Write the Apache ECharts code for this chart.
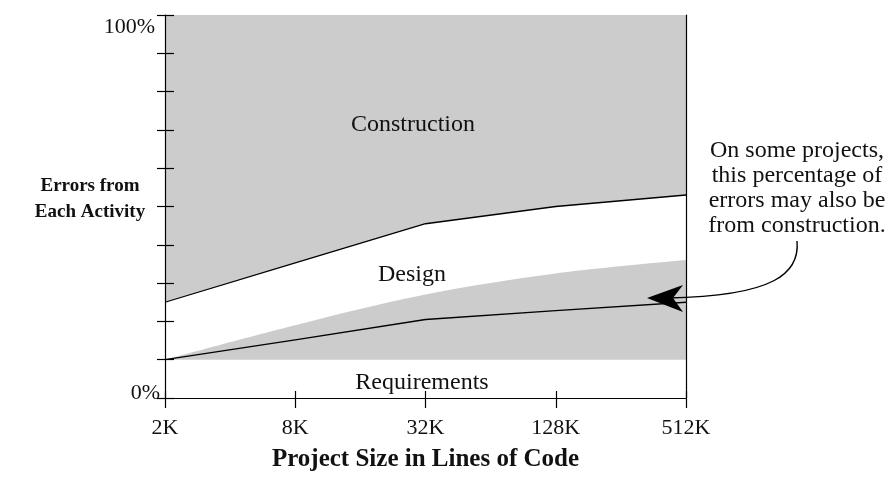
<!DOCTYPE html>
<html>
<head>
<meta charset="utf-8">
<script src="https://cdn.jsdelivr.net/npm/echarts@6/dist/echarts.min.js"></script>
<style>
  html, body { margin: 0; padding: 0; background: #fff; }
  #chart { width: 889px; height: 477px; }
</style>
</head>
<body>
<div id="chart"></div>
<script>
// project sizes along the bottom axis
var sizeLabels = ['2K', '8K', '32K', '128K', '512K'];

// boundary between design and construction errors (%)
var designTop = [25, 35.3, 45.5, 50, 53];
// upper edge of the shaded "may also be construction" band (%)
var shadedTop = [10, 19, 27, 32.5, 36];
// boundary between requirements and design errors (%)
var requirementsTop = [10, 15.2, 20.5, 22.8, 25];
// bottom of the shaded band (%)
var shadedBase = [10, 10, 10, 10, 10];

var FONT = 'Liberation Serif';
var GRAY = '#cccccc';
var INK = '#111';

var chart = echarts.init(document.getElementById('chart'));

var option = {
    animation: false,
    backgroundColor: '#fff',
    grid: { left: 165, right: 203, top: 15, bottom: 72 },
    xAxis: [
        {   // main axis, ticks inside
            type: 'category', data: sizeLabels, boundaryGap: false, z: 10,
            axisLine: { lineStyle: { color: '#000', width: 1.2 } },
            axisTick: { inside: true, length: 7, lineStyle: { color: '#000', width: 1.2 } },
            axisLabel: { margin: 19, fontFamily: FONT, fontSize: 22, color: INK },
            name: 'Project Size in Lines of Code',
            nameLocation: 'middle', nameGap: 49,
            nameTextStyle: { fontFamily: FONT, fontSize: 25, fontWeight: 'bold', color: INK },
            splitLine: { show: false }
        },
        {   // same axis, ticks outside
            type: 'category', data: sizeLabels, boundaryGap: false, position: 'bottom', z: 10,
            axisLine: { show: false },
            axisTick: { length: 10, lineStyle: { color: '#000', width: 1.2 } },
            axisLabel: { show: false }, splitLine: { show: false }
        },
        {   // top frame
            type: 'category', data: sizeLabels, boundaryGap: false, position: 'top', z: 10,
            axisLine: { lineStyle: { color: '#000', width: 1.2 } },
            axisTick: { show: false }, axisLabel: { show: false }, splitLine: { show: false }
        }
    ],
    yAxis: [
        {   // main axis, ticks inside
            type: 'value', min: 0, max: 100, interval: 10, z: 10,
            axisLine: { show: true, lineStyle: { color: '#000', width: 1.2 } },
            axisTick: { show: true, inside: true, length: 9, lineStyle: { color: '#000', width: 1.2 } },
            splitLine: { show: false },
            axisLabel: {
                margin: 5, fontFamily: FONT, fontSize: 22, color: INK,
                formatter: function (v) {
                    if (v === 100) return '{t|100%}';
                    if (v === 0) return '{b|0%}';
                    return '';
                },
                rich: {
                    t: { fontFamily: FONT, fontSize: 22, color: INK, padding: [24, 5, 0, 0] },
                    b: { fontFamily: FONT, fontSize: 22, color: INK, padding: [0, 0, 10, 0] }
                }
            }
        },
        {   // same axis, ticks outside
            type: 'value', min: 0, max: 100, interval: 10, position: 'left', z: 10,
            axisLine: { show: false },
            axisTick: { show: true, length: 8, lineStyle: { color: '#000', width: 1.2 } },
            axisLabel: { show: false }, splitLine: { show: false }
        },
        {   // right frame
            type: 'value', min: 0, max: 100, position: 'right', z: 10,
            axisLine: { show: true, lineStyle: { color: '#000', width: 1.2 } },
            axisTick: { show: false }, axisLabel: { show: false }, splitLine: { show: false }
        }
    ],
    series: [
        {
            name: 'shaded', type: 'line', data: shadedTop, smooth: 0.35,
            symbol: 'none', lineStyle: { width: 0 },
            areaStyle: { color: GRAY, opacity: 1, origin: 'start' }
        },
        {
            name: 'base', type: 'line', data: shadedBase,
            symbol: 'none', lineStyle: { width: 0 },
            areaStyle: { color: '#fff', opacity: 1, origin: 'start' }
        },
        {
            name: 'Requirements', type: 'line', data: requirementsTop,
            symbol: 'none', lineStyle: { color: '#000', width: 1.3 }
        },
        {
            name: 'Construction', type: 'line', data: designTop,
            symbol: 'none', lineStyle: { color: '#000', width: 1.3 },
            areaStyle: { color: GRAY, opacity: 1, origin: 'end' }
        }
    ],
    graphic: [
        {
            type: 'text', x: 90, y: 199, z: 20,
            style: {
                text: 'Errors from\nEach Activity', align: 'center', verticalAlign: 'middle',
                font: 'bold 19px "Liberation Serif"', fill: INK, lineHeight: 26
            }
        },
        {
            type: 'text', x: 413, y: 125, z: 20,
            style: { text: 'Construction', align: 'center', verticalAlign: 'middle',
                font: '24px "Liberation Serif"', fill: INK }
        },
        {
            type: 'text', x: 412, y: 275, z: 20,
            style: { text: 'Design', align: 'center', verticalAlign: 'middle',
                font: '24px "Liberation Serif"', fill: INK }
        },
        {
            type: 'text', x: 422, y: 383, z: 20,
            style: { text: 'Requirements', align: 'center', verticalAlign: 'middle',
                font: '24px "Liberation Serif"', fill: INK }
        },
        {
            type: 'text', x: 797, y: 188, z: 20,
            style: {
                text: 'On some projects,\nthis percentage of\nerrors may also be\nfrom construction.',
                align: 'center', verticalAlign: 'middle',
                font: '24px "Liberation Serif"', fill: INK, lineHeight: 25
            }
        },
        {
            type: 'bezierCurve', z: 20,
            shape: { x1: 797, y1: 241, cpx1: 800, cpy1: 273, cpx2: 775, cpy2: 296, x2: 668, y2: 298 },
            style: { stroke: '#000', lineWidth: 1.4, fill: null }
        },
        {
            type: 'polygon', z: 21,
            shape: { points: [[647, 298], [683, 285], [673, 298], [683, 312]] },
            style: { fill: '#000' }
        }
    ]
};

chart.setOption(option);
</script>
</body>
</html>
